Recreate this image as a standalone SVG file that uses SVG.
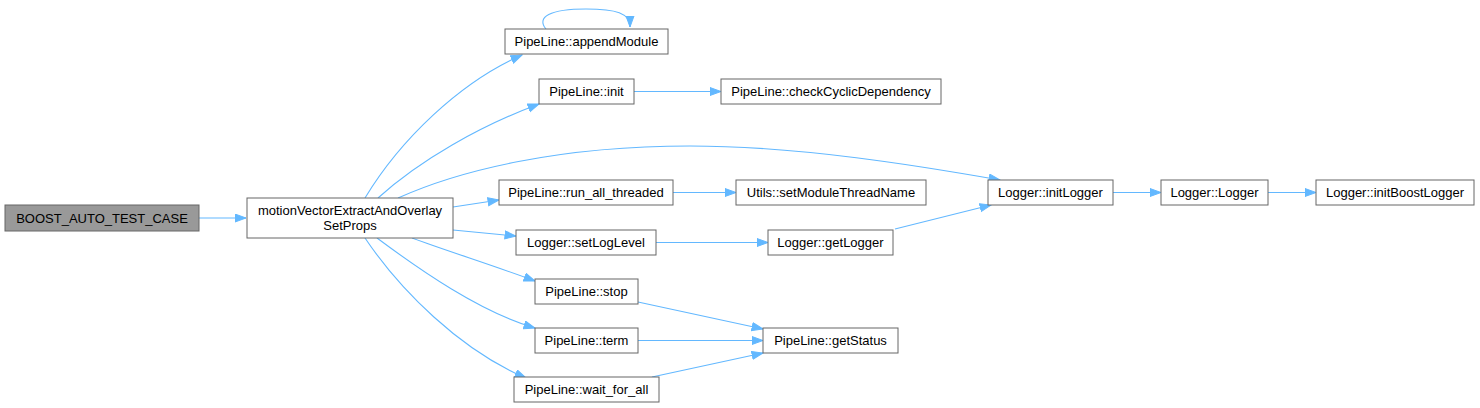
<svg xmlns="http://www.w3.org/2000/svg" width="1480" height="408" viewBox="0 0 1480 408">
<defs>
<style>
.node rect{fill:#ffffff;stroke:#666666;stroke-width:1}
.node.hl rect{fill:#999999}
.node text{font-family:"Liberation Sans",Arial,sans-serif;font-size:13px;fill:#000000;text-anchor:middle}
.edges path{fill:none;stroke:#63b8ff;stroke-width:1.1;marker-end:url(#arr)}
</style>
<marker id="arr" markerUnits="userSpaceOnUse" markerWidth="13" markerHeight="10" refX="11.5" refY="4.5" orient="auto">
<path d="M0.5,0.5 L11.5,4.5 L0.5,8.5 Z" fill="#63b8ff" stroke="#63b8ff"/>
</marker>
</defs>
<rect width="1480" height="408" fill="#ffffff"/>
<g class="edges" id="edges">
<path d="M199,218 L246,218"/>
<path d="M365,198 C400,140 460,82 522,55"/>
<path d="M546,29 C536,17 550,9 586,9 C616,9 630,13 630,27"/>
<path d="M378,198 C420,160 480,126 539,104"/>
<path d="M398,198 C460,170 560,146 690,146 C800,146 920,166 1000,180"/>
<path d="M453,207 L499,200"/>
<path d="M453,230 L516,236"/>
<path d="M412,238 C450,252 495,266 535,281"/>
<path d="M377,238 C420,270 480,312 535,328"/>
<path d="M365,238 C400,290 460,350 526,378"/>
<path d="M634,91.5 L721,91.5"/>
<path d="M673,192.5 L736,192.5"/>
<path d="M656,242.5 L768,242.5"/>
<path d="M895,229 L991,205"/>
<path d="M638,302 L763,329"/>
<path d="M638,340.5 L763,340.5"/>
<path d="M652,377 L763,353"/>
<path d="M1113,192.5 L1161,192.5"/>
<path d="M1268,192.5 L1316,192.5"/>
</g>
<g id="n0" class="node hl"><rect x="5" y="205" width="194" height="26"/><text x="102" y="222.5">BOOST_AUTO_TEST_CASE</text></g>
<g id="n1" class="node"><rect x="247" y="198" width="206" height="40"/><text x="350" y="215">motionVectorExtractAndOverlay</text><text x="350" y="230">SetProps</text></g>
<g id="n2" class="node"><rect x="505" y="29" width="163" height="25"/><text x="586.5" y="46">PipeLine::appendModule</text></g>
<g id="n3" class="node"><rect x="539" y="79" width="95" height="25"/><text x="586.5" y="96">PipeLine::init</text></g>
<g id="n4" class="node"><rect x="721" y="79" width="220" height="25"/><text x="831" y="96">PipeLine::checkCyclicDependency</text></g>
<g id="n5" class="node"><rect x="499" y="180" width="174" height="25"/><text x="586" y="197">PipeLine::run_all_threaded</text></g>
<g id="n6" class="node"><rect x="516" y="230" width="140" height="25"/><text x="586" y="247">Logger::setLogLevel</text></g>
<g id="n7" class="node"><rect x="535" y="279" width="103" height="25"/><text x="586.5" y="296">PipeLine::stop</text></g>
<g id="n8" class="node"><rect x="535" y="328" width="103" height="25"/><text x="586.5" y="345">PipeLine::term</text></g>
<g id="n9" class="node"><rect x="514" y="377" width="145" height="25"/><text x="586.5" y="394">PipeLine::wait_for_all</text></g>
<g id="n10" class="node"><rect x="736" y="180" width="190" height="25"/><text x="831" y="197">Utils::setModuleThreadName</text></g>
<g id="n11" class="node"><rect x="768" y="230" width="125" height="25"/><text x="830.5" y="247">Logger::getLogger</text></g>
<g id="n12" class="node"><rect x="763" y="328" width="135" height="25"/><text x="830.5" y="345">PipeLine::getStatus</text></g>
<g id="n13" class="node"><rect x="988" y="180" width="125" height="25"/><text x="1050.5" y="197">Logger::initLogger</text></g>
<g id="n14" class="node"><rect x="1161" y="180" width="107" height="25"/><text x="1214.5" y="197">Logger::Logger</text></g>
<g id="n15" class="node"><rect x="1316" y="180" width="158" height="25"/><text x="1395" y="197">Logger::initBoostLogger</text></g>
</svg>
